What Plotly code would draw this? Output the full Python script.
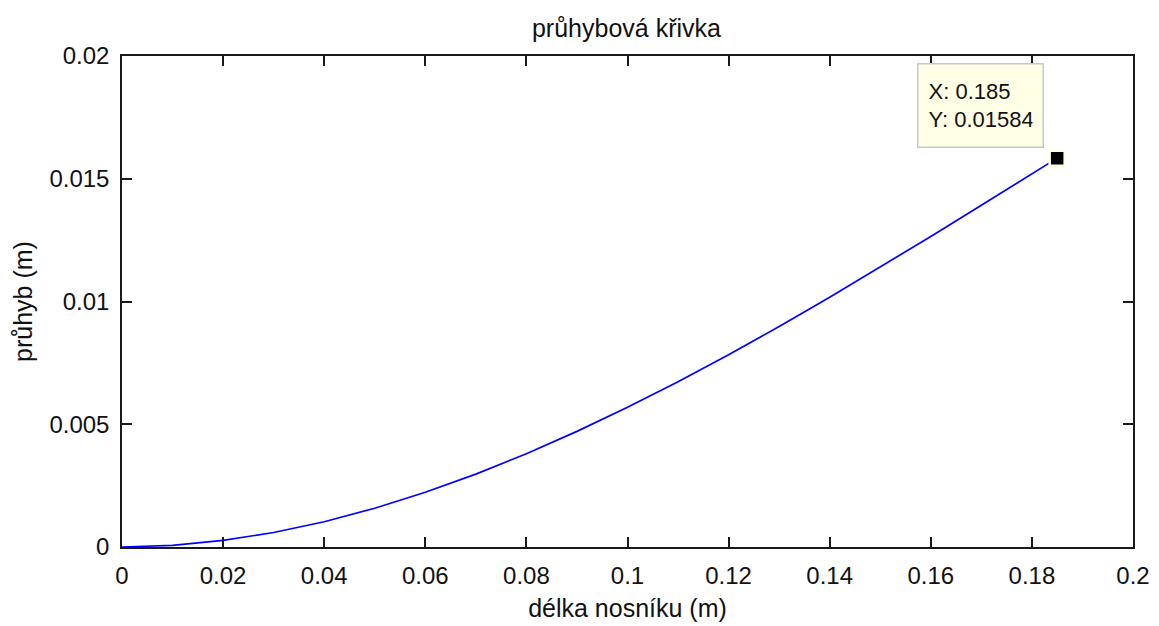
import plotly.graph_objects as go

# Beam length positions (m) and the deflection read at each (m)
delka = [0.0, 0.01, 0.02, 0.03, 0.04, 0.05, 0.06, 0.07, 0.08, 0.09, 0.10,
         0.11, 0.12, 0.13, 0.14, 0.15, 0.16, 0.17, 0.18, 0.185]
pruhyb = [0.0, 0.00007, 0.00027, 0.00059, 0.00103, 0.00158, 0.00223, 0.00297,
          0.0038, 0.00471, 0.00569, 0.00673, 0.00783, 0.00898, 0.01017,
          0.0114, 0.01265, 0.01392, 0.0152, 0.01584]

# Data-cursor point
tip_x = 0.185
tip_y = 0.01584

x_ticks = [0, 0.02, 0.04, 0.06, 0.08, 0.1, 0.12, 0.14, 0.16, 0.18, 0.2]
x_tick_text = ["0", "0.02", "0.04", "0.06", "0.08", "0.1", "0.12", "0.14", "0.16", "0.18", "0.2"]
y_ticks = [0, 0.005, 0.01, 0.015, 0.02]
y_tick_text = ["0", "0.005", "0.01", "0.015", "0.02"]

FONT = "Liberation Sans"
AX = "#1a1a1a"
TXT = "#111"

fig = go.Figure()
fig.add_trace(go.Scatter(
    x=delka, y=pruhyb, mode="lines",
    line=dict(color="#0000ff", width=1.7),
    hoverinfo="skip", showlegend=False,
))
fig.add_trace(go.Scatter(
    x=[tip_x], y=[tip_y], mode="markers",
    marker=dict(symbol="square", size=15, color="black",
                line=dict(color="#ffffe0", width=2.5)),
    hoverinfo="skip", showlegend=False,
))

fig.add_annotation(
    x=tip_x, y=tip_y, xref="x", yref="y",
    text=f"X: {tip_x:g}<br>Y: {tip_y:g}",
    showarrow=False, xanchor="right", yanchor="bottom",
    xshift=-13, yshift=10,
    width=104, height=62, align="left", valign="middle",
    bgcolor="#ffffe6", bordercolor="#c8c8c8", borderwidth=1.5, borderpad=10,
    font=dict(family=FONT, size=22, color=TXT),
)

axis_common = dict(
    showgrid=False, zeroline=False, showline=True, mirror="ticks",
    linecolor=AX, linewidth=1.5, ticks="inside", ticklen=10,
    tickwidth=1.5, tickcolor=AX, automargin=False,
    tickfont=dict(family=FONT, size=24, color=TXT),
)

fig.update_layout(
    width=1159, height=626,
    margin=dict(l=122, r=26, t=56, b=79),
    paper_bgcolor="white", plot_bgcolor="white",
    title=dict(text="průhybová křivka", x=0.5405, xanchor="center",
               y=0.955, yanchor="middle",
               font=dict(family=FONT, size=25, color=TXT)),
    xaxis=dict(range=[0, 0.2], tickvals=x_ticks, ticktext=x_tick_text,
               ticklabelstandoff=6,
               title=dict(text="délka nosníku (m)", standoff=12,
                          font=dict(family=FONT, size=25, color=TXT)),
               **axis_common),
    yaxis=dict(range=[0, 0.02], tickvals=y_ticks, ticktext=y_tick_text,
               ticklabelstandoff=6,
               title=dict(text="průhyb (m)", standoff=10,
                          font=dict(family=FONT, size=25, color=TXT)),
               **axis_common),
)

fig.write_html("out.html")
